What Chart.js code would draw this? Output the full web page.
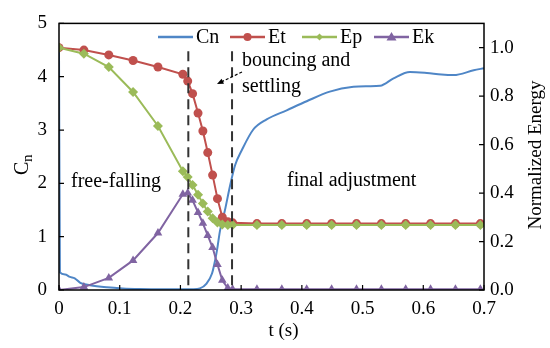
<!DOCTYPE html>
<html>
<head>
<meta charset="utf-8">
<script src="https://cdn.jsdelivr.net/npm/chart.js@4/dist/chart.umd.min.js"></script>
<style>
  html, body { margin: 0; padding: 0; background: #fff; }
  #wrap { width: 550px; height: 348px; position: relative; }
</style>
</head>
<body>
<div id="wrap"><canvas id="chart"></canvas></div>
<script>
// energy samples (normalized, right axis)
const energyTime = [0, 0.041, 0.082, 0.122, 0.163, 0.204, 0.212, 0.220, 0.229, 0.237, 0.245, 0.253, 0.261, 0.269, 0.278, 0.286,
  0.326, 0.367, 0.408, 0.449, 0.490, 0.531, 0.571, 0.612, 0.653, 0.694];
const etValues = [1.0, 0.99, 0.97, 0.947, 0.92, 0.89, 0.862, 0.81, 0.73, 0.656, 0.567, 0.474, 0.377, 0.30, 0.282, 0.277,
  0.274, 0.274, 0.274, 0.274, 0.274, 0.274, 0.274, 0.274, 0.274, 0.274];
const epValues = [1.0, 0.975, 0.92, 0.817, 0.677, 0.49, 0.466, 0.433, 0.393, 0.357, 0.324, 0.296, 0.278, 0.27, 0.268, 0.268,
  0.268, 0.268, 0.268, 0.268, 0.268, 0.268, 0.268, 0.268, 0.268, 0.268];
const ekValues = [0, 0.012, 0.05, 0.122, 0.235, 0.395, 0.40, 0.37, 0.32, 0.275, 0.225, 0.175, 0.105, 0.04, 0.008, 0.003,
  0.003, 0.003, 0.003, 0.003, 0.003, 0.003, 0.003, 0.003, 0.003, 0.003];

// coordination number (left axis)
const cnTime = [0, 0.0015, 0.01, 0.018, 0.026, 0.035, 0.051, 0.079, 0.105, 0.133, 0.17, 0.2, 0.22, 0.232, 0.243, 0.252,
  0.257, 0.261, 0.265, 0.273, 0.282, 0.29, 0.301, 0.32, 0.342, 0.375, 0.408, 0.446, 0.485, 0.51, 0.529, 0.551, 0.578,
  0.606, 0.63, 0.65, 0.683, 0.7];
const cnValues = [4.52, 0.33, 0.29, 0.245, 0.22, 0.135, 0.09, 0.05, 0.03, 0.02, 0.015, 0.012, 0.015, 0.03, 0.12, 0.31,
  0.55, 0.8, 1.1, 1.48, 1.97, 2.34, 2.62, 3.01, 3.2, 3.37, 3.54, 3.72, 3.81, 3.82, 3.83, 3.97, 4.09, 4.07, 4.04, 4.03,
  4.12, 4.16];

const phaseLines = [0.213, 0.285]; // dashed boundaries (s)

const FONT = "'Liberation Serif', 'Times New Roman', serif";
const colors = { cn: "#4F86C6", et: "#C0504D", ep: "#9BBB59", ek: "#8064A2" };

function pts(xs, ys) {
  return xs.map((x, i) => ({ x: x, y: ys[i] }));
}

// box, inward ticks, titles, annotations and legend
const overlay = {
  id: "overlay",
  afterDatasetsDraw(chart) {
    const ctx = chart.ctx;
    const a = chart.chartArea;
    const sx = chart.scales.x, sy = chart.scales.y, se = chart.scales.y1;
    ctx.save();

    // dashed phase lines
    ctx.strokeStyle = "#333";
    ctx.lineWidth = 2;
    ctx.setLineDash([10, 6]);
    phaseLines.forEach((t) => {
      const px = sx.getPixelForValue(t);
      ctx.beginPath();
      ctx.moveTo(px, se.getPixelForValue(0.985));
      ctx.lineTo(px, a.bottom);
      ctx.stroke();
    });
    ctx.setLineDash([]);

    // frame
    ctx.strokeStyle = "#000";
    ctx.lineWidth = 1.5;
    ctx.strokeRect(a.left, a.top, a.right - a.left, a.bottom - a.top);

    // inward tick marks
    ctx.lineWidth = 1.2;
    ctx.beginPath();
    sx.ticks.forEach((t) => {
      const px = sx.getPixelForValue(t.value);
      ctx.moveTo(px, a.bottom); ctx.lineTo(px, a.bottom - 5);
    });
    sy.ticks.forEach((t) => {
      const py = sy.getPixelForValue(t.value);
      ctx.moveTo(a.left, py); ctx.lineTo(a.left + 5, py);
    });
    se.ticks.forEach((t) => {
      const py = se.getPixelForValue(t.value);
      ctx.moveTo(a.right, py); ctx.lineTo(a.right - 5, py);
    });
    ctx.stroke();

    ctx.fillStyle = "#000";
    ctx.textBaseline = "middle";

    // axis titles
    ctx.font = "19px " + FONT;
    ctx.textAlign = "center";
    ctx.fillText("t (s)", (a.left + a.right) / 2 + 12, 331);

    ctx.save();
    ctx.translate(536, 155);
    ctx.rotate(-Math.PI / 2);
    ctx.fillText("Normalized Energy", 0, 0);
    ctx.restore();

    ctx.save();
    ctx.translate(23, 165);
    ctx.rotate(-Math.PI / 2);
    ctx.textAlign = "left";
    ctx.font = "20px " + FONT;
    ctx.fillText("C", -10, 0);
    ctx.font = "15px " + FONT;
    ctx.fillText("n", 3, 5);
    ctx.restore();

    // phase annotations
    ctx.font = "20px " + FONT;
    ctx.textAlign = "left";
    ctx.fillText("free-falling", 71, 182);
    ctx.fillText("final adjustment", 287, 181);
    ctx.fillText("bouncing and", 242, 61);
    ctx.fillText("settling", 242, 87);

    // arrow pointing to the bouncing phase
    const x0 = 242, y0 = 72, x1 = 217, y1 = 84;
    ctx.lineWidth = 1.2;
    ctx.setLineDash([3, 2]);
    ctx.beginPath();
    ctx.moveTo(x0, y0); ctx.lineTo(x1 + 5, y1 - 2.4);
    ctx.stroke();
    ctx.setLineDash([]);
    const ang = Math.atan2(y1 - y0, x1 - x0);
    ctx.beginPath();
    ctx.moveTo(x1, y1);
    ctx.lineTo(x1 - 7 * Math.cos(ang - 0.4), y1 - 7 * Math.sin(ang - 0.4));
    ctx.lineTo(x1 - 7 * Math.cos(ang + 0.4), y1 - 7 * Math.sin(ang + 0.4));
    ctx.closePath();
    ctx.fill();

    // legend inside plot
    const items = [
      { label: "Cn", color: colors.cn, marker: null, x: 158 },
      { label: "Et", color: colors.et, marker: "circle", x: 230 },
      { label: "Ep", color: colors.ep, marker: "diamond", x: 302 },
      { label: "Ek", color: colors.ek, marker: "triangle", x: 374 },
    ];
    const ly = 37;
    ctx.font = "20px " + FONT;
    items.forEach((it) => {
      ctx.strokeStyle = it.color;
      ctx.fillStyle = it.color;
      ctx.lineWidth = 2.5;
      ctx.beginPath();
      ctx.moveTo(it.x, ly); ctx.lineTo(it.x + 35, ly);
      ctx.stroke();
      const mx = it.x + 17.5;
      ctx.beginPath();
      if (it.marker === "circle") {
        ctx.arc(mx, ly, 4, 0, Math.PI * 2);
      } else if (it.marker === "diamond") {
        ctx.moveTo(mx, ly - 3.5); ctx.lineTo(mx + 3.5, ly); ctx.lineTo(mx, ly + 3.5); ctx.lineTo(mx - 3.5, ly);
      } else if (it.marker === "triangle") {
        ctx.moveTo(mx, ly - 5); ctx.lineTo(mx + 5, ly + 3.5); ctx.lineTo(mx - 5, ly + 3.5);
      }
      ctx.closePath();
      if (it.marker) ctx.fill();
      ctx.fillStyle = "#000";
      ctx.fillText(it.label, it.x + 38, ly + 1);
    });

    ctx.restore();
  },
};

const tickFont = { family: FONT, size: 19 };

new Chart(document.getElementById("chart"), {
  type: "line",
  data: {
    datasets: [
      {
        label: "Cn",
        data: pts(cnTime, cnValues),
        yAxisID: "y",
        borderColor: colors.cn,
        borderWidth: 2,
        pointRadius: 0,
        cubicInterpolationMode: "monotone",
        order: 4,
      },
      {
        label: "Et",
        data: pts(energyTime, etValues),
        yAxisID: "y1",
        borderColor: colors.et,
        backgroundColor: colors.et,
        borderWidth: 2,
        pointStyle: "circle",
        pointRadius: 4.5,
        pointBorderWidth: 0,
        order: 3,
      },
      {
        label: "Ep",
        data: pts(energyTime, epValues),
        yAxisID: "y1",
        borderColor: colors.ep,
        backgroundColor: colors.ep,
        borderWidth: 2,
        pointStyle: "rectRot",
        pointRadius: 5,
        pointBorderWidth: 0,
        order: 2,
      },
      {
        label: "Ek",
        data: pts(energyTime, ekValues),
        yAxisID: "y1",
        borderColor: colors.ek,
        backgroundColor: colors.ek,
        borderWidth: 2,
        pointStyle: "triangle",
        pointRadius: 5,
        pointBorderWidth: 0,
        order: 1,
      },
    ],
  },
  options: {
    responsive: true,
    maintainAspectRatio: false,
    animation: false,
    layout: { padding: { top: 19, left: 0, right: 0, bottom: 0 } },
    plugins: { legend: { display: false }, tooltip: { enabled: false } },
    scales: {
      x: {
        type: "linear",
        min: 0,
        max: 0.7,
        grid: { display: false, drawTicks: false },
        border: { display: false },
        ticks: { stepSize: 0.1, color: "#000", font: tickFont, padding: 8, maxRotation: 0 },
        afterFit: (s) => { s.height = 58; },
      },
      y: {
        position: "left",
        min: 0,
        max: 5,
        grid: { display: false, drawTicks: false },
        border: { display: false },
        ticks: { stepSize: 1, color: "#000", font: tickFont, padding: 12 },
        afterFit: (s) => { s.width = 59; },
      },
      y1: {
        position: "right",
        min: 0,
        max: 1.1,
        grid: { display: false, drawTicks: false },
        border: { display: false },
        ticks: {
          stepSize: 0.2,
          includeBounds: false,
          color: "#000",
          font: tickFont,
          padding: 6,
          callback: (v) => v.toFixed(1),
        },
        afterFit: (s) => { s.width = 66; },
      },
    },
  },
  plugins: [overlay],
});
</script>
</body>
</html>
